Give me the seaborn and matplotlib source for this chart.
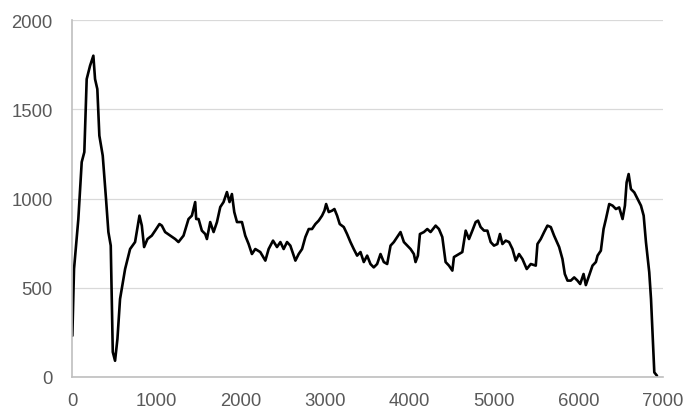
import matplotlib
matplotlib.use('Agg')
import matplotlib.pyplot as plt
import seaborn as sns
import pandas as pd

# valores
x_vals = [4, 24, 75, 115, 146, 174, 214, 253, 273, 300, 324, 364, 403, 431, 459, 483, 510, 538,
          569, 629, 688, 747, 799, 827, 854, 894, 945, 985, 1036, 1064, 1103, 1163, 1222, 1261,
          1321, 1380, 1420, 1459, 1471, 1499, 1538, 1578, 1598, 1637, 1677, 1717, 1756, 1795,
          1835, 1866, 1894, 1922, 1954, 2013, 2052, 2092, 2131, 2171, 2230, 2290, 2329, 2381,
          2428, 2468, 2507, 2547, 2586, 2646, 2685, 2725, 2764, 2804, 2843, 2883, 2922, 2962,
          2990, 3010, 3041, 3081, 3108, 3140, 3171, 3219, 3258, 3298, 3337, 3377, 3417, 3456,
          3496, 3535, 3574, 3614, 3654, 3693, 3733, 3773, 3812, 3852, 3891, 3931, 3971, 4010,
          4049, 4069, 4097, 4121, 4168, 4208, 4247, 4307, 4346, 4386, 4425, 4465, 4505, 4524,
          4583, 4623, 4663, 4702, 4742, 4781, 4809, 4840, 4880, 4920, 4959, 4998, 5038, 5069,
          5098, 5137, 5177, 5217, 5256, 5295, 5335, 5386, 5434, 5493, 5513, 5552, 5592, 5631,
          5671, 5710, 5770, 5809, 5837, 5869, 5908, 5948, 5987, 6019, 6059, 6086, 6125, 6165,
          6205, 6225, 6264, 6296, 6324, 6363, 6403, 6442, 6481, 6521, 6549, 6569, 6593, 6620,
          6660, 6699, 6739, 6771, 6798, 6837, 6858, 6877, 6897, 6929]
y_vals = [231, 605, 885, 1204, 1260, 1669, 1744, 1800, 1669, 1613, 1352, 1240, 997, 812, 736, 140,
          91, 213, 437, 605, 717, 756, 904, 848, 728, 773, 792, 820, 857, 848, 812, 792, 773,
          756, 792, 885, 904, 980, 885, 885, 820, 801, 773, 868, 812, 868, 952, 980, 1036, 980,
          1025, 924, 868, 868, 792, 745, 689, 717, 700, 652, 717, 764, 728, 756, 717, 756, 736,
          652, 689, 717, 784, 829, 829, 857, 876, 904, 932, 969, 924, 932, 941, 904, 857, 840,
          801, 756, 717, 680, 700, 644, 680, 633, 614, 633, 689, 644, 633, 736, 756, 784, 812,
          756, 736, 717, 689, 644, 680, 801, 812, 829, 812, 848, 829, 784, 644, 624, 596, 672,
          689, 700, 820, 773, 820, 868, 876, 840, 820, 820, 756, 736, 745, 801, 745, 764, 756,
          717, 652, 689, 661, 605, 633, 624, 745, 773, 812, 848, 840, 792, 728, 661, 577, 540,
          540, 558, 540, 521, 577, 515, 568, 624, 644, 680, 708, 829, 885, 969, 960, 941, 950,
          885, 960, 1090, 1137, 1053, 1034, 997, 960, 904, 756, 587, 437, 231, 26, 7]
x_ticks = [0, 1000, 2000, 3000, 4000, 5000, 6000, 7000]
y_ticks = [0, 500, 1000, 1500, 2000]

df = pd.DataFrame({'x': x_vals, 'y': y_vals})

sns.set_style('white')
plt.rcParams['font.family'] = ['Liberation Sans', 'DejaVu Sans']

fig = plt.figure(figsize=(6.89, 4.10), dpi=100)
ax = fig.add_axes([72 / 689, 1 - 378 / 410, (663 - 72) / 689, (378 - 21) / 410])

sns.lineplot(x='x', y='y', data=df, sort=False, color='black', linewidth=1.9, ax=ax)

ax.set_xlim(0, 7000)
ax.set_ylim(0, 2000)
ax.set_xticks(x_ticks)
ax.set_yticks(y_ticks)
ax.set_xlabel('')
ax.set_ylabel('')
ax.yaxis.grid(True, color='#d9d9d9', linewidth=0.9)
ax.xaxis.grid(False)
ax.set_axisbelow(True)
for s in ['top', 'right']:
    ax.spines[s].set_visible(False)
for s in ['left', 'bottom']:
    ax.spines[s].set_color('#bfbfbf')
    ax.spines[s].set_linewidth(1.2)
ax.tick_params(axis='both', length=0, labelsize=13.3, labelcolor='#595959')
ax.tick_params(axis='y', pad=14)
ax.tick_params(axis='x', pad=11)

fig.savefig('out.png', dpi=100)
